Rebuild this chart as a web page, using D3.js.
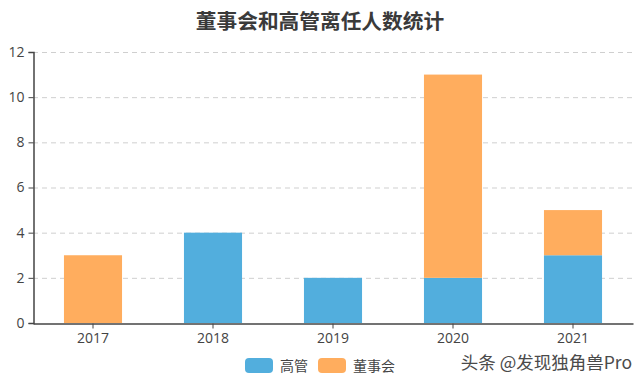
<!DOCTYPE html>
<html><head><meta charset="utf-8">
<script src="https://cdn.jsdelivr.net/npm/d3@7"></script>
<style>body{margin:0;background:#fff;} svg{display:block;font-family:"Noto Sans CJK SC","Open Sans",sans-serif;}</style>
</head><body><svg id="c" width="640" height="382"></svg>
<script>
const categories = ["2017","2018","2019","2020","2021"];
const gaoguan = [0,4,2,2,3];
const dongshihui = [3,0,0,9,2];
const yTicks = [0,2,4,6,8,10,12];
const seriesNames = ["高管","董事会"];
const colors = ["#52aedd","#ffad5e"];

const svg = d3.select("#c");
const L=33, R=633, T=52, B=323;
const x = d3.scaleBand().domain(categories).range([L,R]).paddingInner(0.516).paddingOuter(0.258);
const y = d3.scaleLinear().domain([0,12]).range([B,T]);

svg.append("text").attr("x",320).attr("y",29).attr("text-anchor","middle")
  .attr("font-size",20.7).attr("font-weight","bold").attr("fill","#3a3a3a").text("董事会和高管离任人数统计");

// grid
svg.append("g").selectAll("line").data(yTicks.filter(d=>d>0)).join("line")
  .attr("x1",L).attr("x2",R).attr("y1",d=>y(d)+0.5).attr("y2",d=>y(d)+0.5)
  .attr("stroke","#cfcfcf").attr("stroke-dasharray","5,4");

const data = categories.map((c,i)=>({c, a:gaoguan[i], b:dongshihui[i]}));
const stack = d3.stack().keys(["a","b"])(data);
svg.append("g").selectAll("g").data(stack).join("g").attr("fill",(d,i)=>colors[i])
  .selectAll("rect").data(d=>d).join("rect")
  .attr("x",d=>x(d.data.c)).attr("width",x.bandwidth())
  .attr("y",d=>y(d[1])).attr("height",d=>y(d[0])-y(d[1]));

// y axis
const ya = svg.append("g").attr("transform",`translate(${L+0.5},0)`)
  .call(d3.axisLeft(y).tickValues(yTicks).tickSize(5).tickPadding(4));
ya.select(".domain").attr("stroke","#444").attr("stroke-width",1.5);
ya.selectAll(".tick line").attr("stroke","#444");
ya.selectAll("text").attr("font-size",14).attr("fill","#444").attr("font-family","'Open Sans',sans-serif");

// x axis
const xa = svg.append("g").attr("transform",`translate(0,${B+0.5})`)
  .call(d3.axisBottom(x).tickSize(5).tickPadding(5).tickSizeOuter(0));
xa.select(".domain").attr("stroke","#444").attr("stroke-width",1.5);
xa.selectAll(".tick line").attr("stroke","#444");
xa.selectAll("text").attr("font-size",14).attr("fill","#444").attr("font-family","'Open Sans',sans-serif");

// legend
const lg = svg.append("g");
const lx = [245,318];
seriesNames.forEach((n,i)=>{
  lg.append("rect").attr("x",lx[i]).attr("y",358).attr("width",28).attr("height",15).attr("rx",4).attr("fill",colors[i]);
  lg.append("text").attr("x",lx[i]+35).attr("y",371).attr("font-size",14).attr("fill","#444").text(n);
});

// watermark
svg.append("text").attr("x",632).attr("y",369).attr("text-anchor","end").attr("font-size",17.5)
  .attr("fill","#4a4a4a").text("头条 @发现独角兽Pro");
</script></body></html>
